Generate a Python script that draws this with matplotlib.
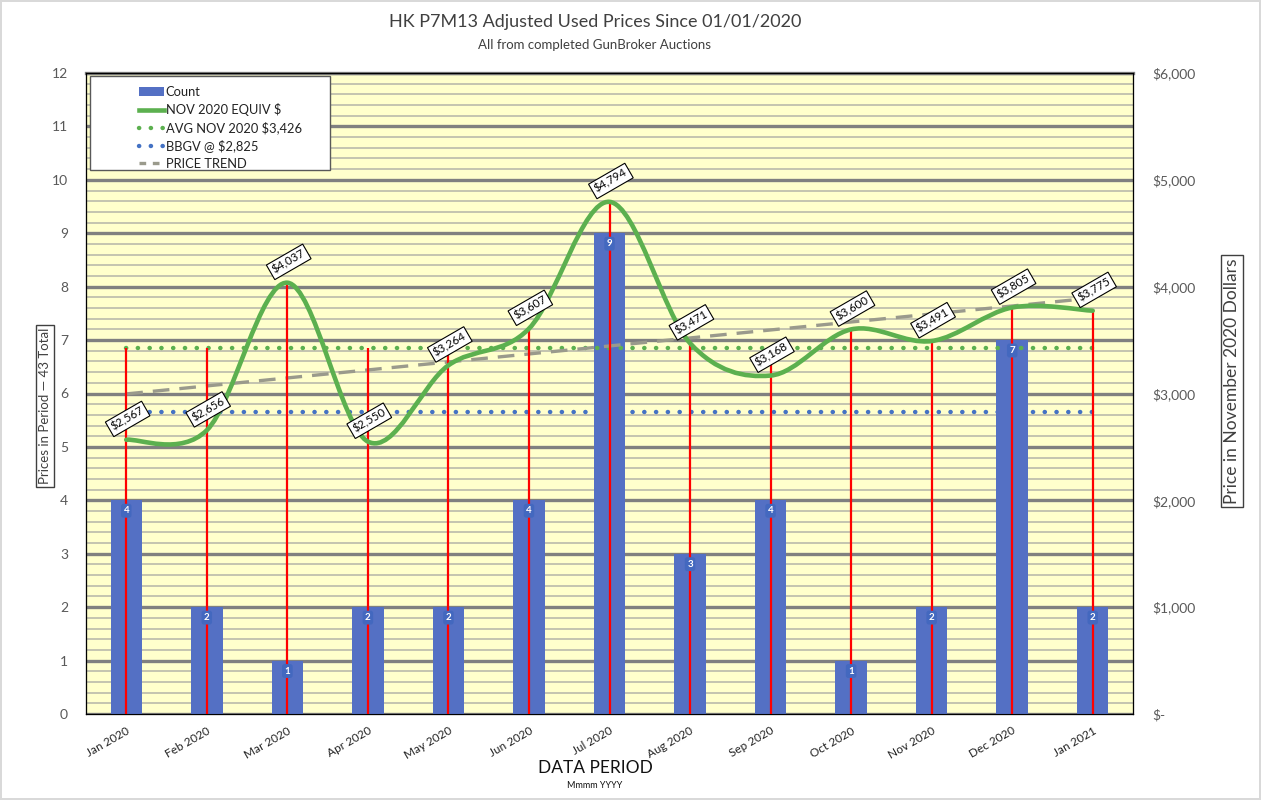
import numpy as np
import matplotlib
matplotlib.use("Agg")
import matplotlib.pyplot as plt
from matplotlib.path import Path
from matplotlib.patches import PathPatch, Rectangle
from matplotlib.lines import Line2D
from matplotlib.ticker import FuncFormatter

plt.rcParams["font.family"] = ["Lato", "DejaVu Sans"]

months = ["Jan 2020", "Feb 2020", "Mar 2020", "Apr 2020", "May 2020", "Jun 2020",
          "Jul 2020", "Aug 2020", "Sep 2020", "Oct 2020", "Nov 2020", "Dec 2020",
          "Jan 2021"]
counts = [4, 2, 1, 2, 2, 4, 9, 3, 4, 1, 2, 7, 2]
prices = [2567, 2656, 4037, 2550, 3264, 3607, 4794, 3471, 3168, 3600, 3491, 3805, 3775]
drop_tops = [3426, 3426, 4037, 3426, 3360, 3607, 4794, 3471, 3275, 3600, 3491, 3805, 3775]
avg_price = 3426
bbgv_price = 2825
trend_ends = [2996, 3894]

W, H = 1261, 800
fig = plt.figure(figsize=(W / 100, H / 100), dpi=100)
fig.patch.set_edgecolor("#D9D9D9")
fig.patch.set_linewidth(1.5)

L, R, T, B = 86, 1133, 73, 714
ax = fig.add_axes([L / W, 1 - B / H, (R - L) / W, (B - T) / H])
ax.set_facecolor("#FFFFCC")
x = np.arange(len(months))
ax.set_xlim(-0.5, len(months) - 0.5)
ax.set_ylim(0, 12)
ax.set_yticks(np.arange(0, 13, 1))
ax.set_yticks(np.arange(0, 12, 0.2), minor=True)
ax.grid(True, which="major", axis="y", color="#808080", lw=2.4)
ax.grid(True, which="minor", axis="y", color="#B4B4A8", lw=1.1)
ax.set_axisbelow(True)
ax.tick_params(axis="y", which="both", length=0, labelsize=10, labelcolor="#595959", pad=13)
ax.set_xticks(x)
ax.set_xticklabels(months, rotation=30, ha="right", rotation_mode="anchor",
                   fontsize=8.5, color="#222222")
ax.tick_params(axis="x", length=0, pad=8)
for s in ["left", "bottom", "top", "right"]:
    ax.spines[s].set_color("#595959")
ax.spines["top"].set_linewidth(2.4)
ax.spines["top"].set_color("#808080")

# BBGV sits under the bars
axb = ax.twinx()
axb.set_ylim(0, 6000)
axb.set_yticks([])
axb.plot(x, [bbgv_price] * len(x), color="#4472C4", lw=3.2,
         ls=(0, (0.05, 2.6)), dash_capstyle="round")

# count bars
axc = ax.twinx()
axc.set_ylim(0, 12)
axc.set_yticks([])
axc.bar(x, counts, width=0.39, color="#5470C4", zorder=2)

# price axis
axp = ax.twinx()
axp.set_ylim(0, 6000)
axp.set_yticks(np.arange(0, 6001, 1000))
axp.yaxis.set_major_formatter(FuncFormatter(lambda v, p: "$-" if v == 0 else f"${v:,.0f}"))
axp.tick_params(axis="y", length=0, labelsize=10, labelcolor="#595959", pad=14)
for s in ["left", "bottom", "top", "right"]:
    axp.spines[s].set_visible(False)

axp.vlines(x, 0, drop_tops, color="#FF0000", lw=1.6, zorder=3)
axp.plot(x, [avg_price] * len(x), color="#5CB04F", lw=3.2,
         ls=(0, (0.05, 2.6)), dash_capstyle="round", zorder=2)
axp.plot([x[0], x[-1]], trend_ends, color="#9A9A8C", lw=2.4, ls=(0, (5, 3)), zorder=2)

# smoothed price line (Excel-style bezier)
pts = np.column_stack([x, prices]).astype(float)
verts = [tuple(pts[0])]
codes = [Path.MOVETO]
n = len(pts)
for i in range(n - 1):
    p0 = pts[max(i - 1, 0)]
    p1 = pts[i]
    p2 = pts[i + 1]
    p3 = pts[min(i + 2, n - 1)]
    c1 = p1 + (p2 - p0) / 6.0
    c2 = p2 - (p3 - p1) / 6.0
    verts += [tuple(c1), tuple(c2), tuple(p2)]
    codes += [Path.CURVE4] * 3
axp.add_patch(PathPatch(Path(verts, codes), fc="none", ec="#5CB04F", lw=3.3, zorder=4,
                        capstyle="round"))

for xi, p in zip(x, prices):
    axp.annotate(f"${p:,}", (xi, p), xytext=(1, 15), textcoords="offset points",
                 ha="center", va="center", rotation=30, fontsize=8.3, zorder=6,
                 bbox=dict(boxstyle="square,pad=0.25", fc="white", ec="black", lw=0.8))

for xi, c in zip(x, counts):
    axp.annotate(str(c), (xi, c * 500), xytext=(0, -7.5), textcoords="offset points",
                 ha="center", va="center", fontsize=7, fontweight="bold", color="white",
                 zorder=6,
                 bbox=dict(boxstyle="round,pad=0.25", fc="#4368BF", ec="none"))

# legend with its own frame
axp.add_patch(Rectangle((90 / W, 1 - 170 / H), 240 / W, 94 / H, transform=fig.transFigure,
                        fc="white", ec="#595959", lw=1.0, zorder=7))
handles = [
    Rectangle((0, 0), 1, 1, fc="#5470C4"),
    Line2D([], [], color="#5CB04F", lw=3.3),
    Line2D([], [], color="#5CB04F", lw=3.2, ls=(0, (0.05, 2.6)), dash_capstyle="round"),
    Line2D([], [], color="#4472C4", lw=3.2, ls=(0, (0.05, 2.6)), dash_capstyle="round"),
    Line2D([], [], color="#9A9A8C", lw=2.4, ls=(0, (2, 2))),
]
labels = ["Count", "NOV 2020 EQUIV $", "AVG NOV 2020 $3,426", "BBGV @ $2,825",
          "PRICE TREND"]
leg = axp.legend(handles, labels, loc="upper left", bbox_to_anchor=(130 / W, 1 - 77 / H),
                 bbox_transform=fig.transFigure, frameon=False, fontsize=9.3,
                 handlelength=1.9, handletextpad=0.15, labelspacing=0.4, borderpad=0.2)
leg.set_zorder(8)
for t in leg.get_texts():
    t.set_color("#222222")

# texts
fig.text(595 / W, 1 - 22 / H, "HK P7M13 Adjusted Used Prices Since 01/01/2020",
         ha="center", va="center", fontsize=13, color="#404040")
fig.text(595 / W, 1 - 45 / H, "All from completed GunBroker Auctions",
         ha="center", va="center", fontsize=9.5, color="#404040")
fig.text(595 / W, 1 - 768 / H, "DATA PERIOD", ha="center", va="center",
         fontsize=12.5, color="#111111")
fig.text(595 / W, 1 - 786 / H, "Mmmm YYYY", ha="center", va="center",
         fontsize=6.5, color="#111111")
fig.text(45 / W, 1 - 406 / H, "Prices in Period \u2014 43 Total", rotation=90,
         ha="center", va="center", fontsize=9.5, color="#404040",
         bbox=dict(boxstyle="square,pad=0.25", fc="white", ec="#404040", lw=1))
fig.text(1232 / W, 1 - 381 / H, "Price in November 2020 Dollars", rotation=90,
         ha="center", va="center", fontsize=12.5, color="#404040",
         bbox=dict(boxstyle="square,pad=0.2", fc="white", ec="#404040", lw=1))

fig.savefig("out.png", dpi=100)
